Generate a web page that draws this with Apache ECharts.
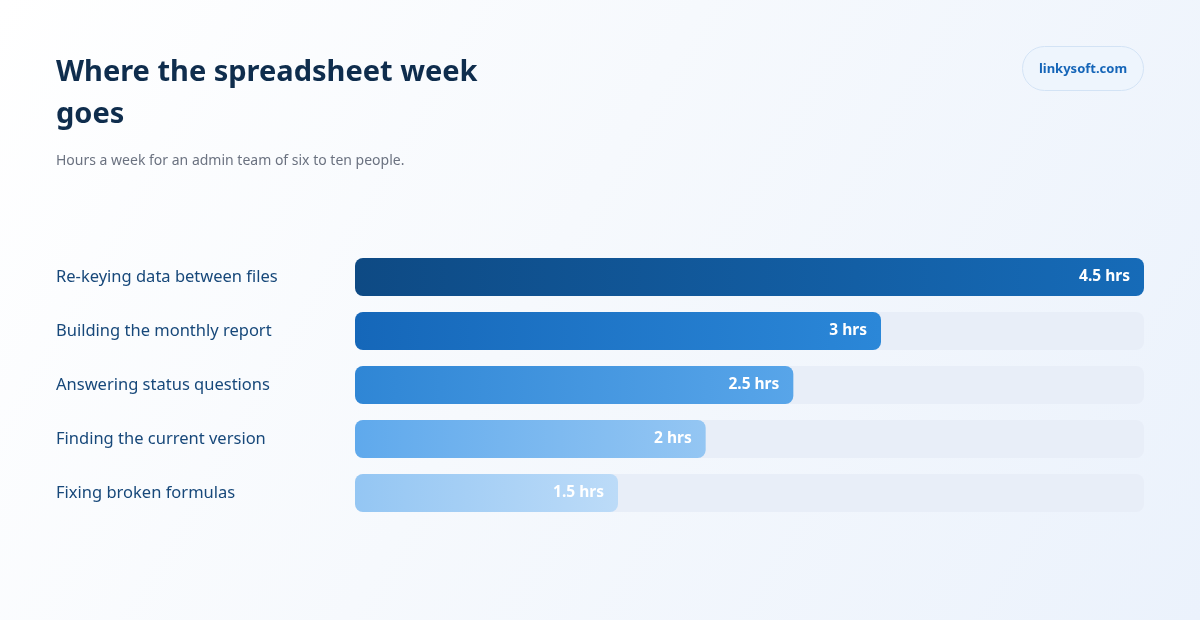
<!DOCTYPE html>
<html><head><meta charset="utf-8">
<script src="https://cdn.jsdelivr.net/npm/echarts@6/dist/echarts.min.js"></script>
<style>
html,body{margin:0;padding:0;}
#c{width:1200px;height:620px;background:linear-gradient(120deg,#ffffff 0%,#f6f9fd 45%,#ebf2fc 100%);}
</style></head>
<body><div id="c"></div>
<script>
const categories = ["Re-keying data between files","Building the monthly report","Answering status questions","Finding the current version","Fixing broken formulas"];
const hours = [4.5, 3, 2.5, 2, 1.5];
const valueLabels = ["4.5 hrs","3 hrs","2.5 hrs","2 hrs","1.5 hrs"];
const gradients = [["#0e4a84","#166bb8"],["#1567b9","#2b87d8"],["#2f86d5","#58a5e9"],["#5fa9ec","#94c6f3"],["#94c6f3","#bcdbf8"]];
const FONT = "'Noto Sans', sans-serif";

const chart = echarts.init(document.getElementById('c'), null, {renderer:'canvas'});
chart.setOption({
  backgroundColor: 'transparent',
  title: [
    {text: "Where the spreadsheet week\ngoes", left: 51, top: 47,
     textStyle:{fontFamily:FONT, fontSize:29, fontWeight:'bold', color:'#0f2d4d', lineHeight:42}},
    {text: "Hours a week for an admin team of six to ten people.", left: 51, top: 149,
     textStyle:{fontFamily:FONT, fontSize:14, fontWeight:'normal', color:'#6b7280'}}
  ],
  graphic: [
    {type:'rect', shape:{x:1022.5, y:46.5, width:121, height:44, r:22},
     style:{fill:'#eef5fd', stroke:'#d3e3f5', lineWidth:1}},
    {type:'text', x:1083, y:69, style:{text:'linkysoft.com', fontFamily:FONT, fontSize:13, fontWeight:'bold',
     fill:'#1565b8', align:'center', verticalAlign:'middle'}}
  ],
  grid: {left:355, right:56, top:250, height:270, containLabel:false},
  xAxis: {type:'value', min:0, max:4.5, show:false},
  yAxis: {type:'category', data:categories, inverse:true,
    axisLine:{show:false}, axisTick:{show:false},
    axisLabel:{align:'left', margin:299, fontFamily:FONT, fontSize:16.5, color:'#17487a'}},
  series: [{
    type:'bar', barWidth:38,
    showBackground:true,
    backgroundStyle:{color:'#e8eef8', borderRadius:8},
    data: hours.map((v,i)=>({value:v, itemStyle:{borderRadius:8,
      color:new echarts.graphic.LinearGradient(0,0,1,0,[{offset:0,color:gradients[i][0]},{offset:1,color:gradients[i][1]}])}})),
    label:{show:true, position:'insideRight', distance:14, formatter:p=>valueLabels[p.dataIndex],
      fontFamily:FONT, fontSize:15.5, fontWeight:'bold', color:'#ffffff'},
    silent:true, animation:false
  }],
  animation:false
});
</script></body></html>
